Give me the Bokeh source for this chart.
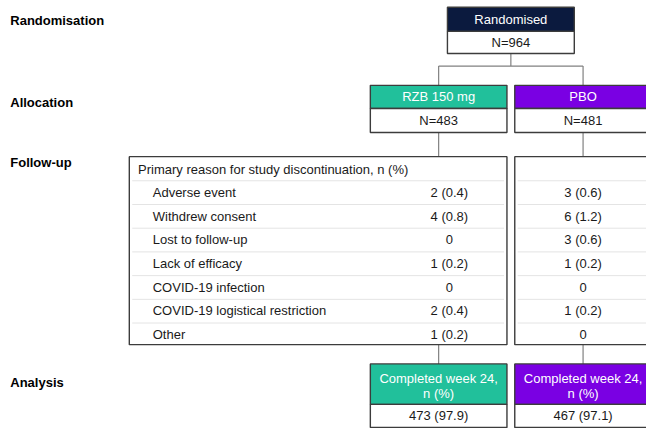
from bokeh.plotting import figure
from bokeh.models import Range1d, ColumnDataSource
from bokeh.core.properties import value
from bokeh.embed import file_html
from bokeh.resources import INLINE

# ---------------- data ----------------
stage_labels = ["Randomisation", "Allocation", "Follow-up", "Analysis"]
total_label = "Randomised"
total_n = "N=964"
arm_names = ["RZB 150 mg", "PBO"]
arm_n = ["N=483", "N=481"]
table_title = "Primary reason for study discontinuation, n (%)"
reasons = ["Adverse event", "Withdrew consent", "Lost to follow-up",
           "Lack of efficacy", "COVID-19 infection",
           "COVID-19 logistical restriction", "Other"]
rzb_values = ["2 (0.4)", "4 (0.8)", "0", "1 (0.2)", "0", "2 (0.4)", "1 (0.2)"]
pbo_values = ["3 (0.6)", "6 (1.2)", "3 (0.6)", "1 (0.2)", "0", "1 (0.2)", "0"]
completed_lines = ["Completed week 24,", "n (%)"]
completed_values = ["473 (97.9)", "467 (97.1)"]

# ---------------- layout / style ----------------
FONT = value("Liberation Sans")
NAVY = "#0b1a3e"
TEAL = "#21c09b"
PURPLE = "#7a00e3"
BORDER = "#3c3c3c"
CONN = "#808080"
SEP = "#e4e4e4"
TXT = "#1a1a1a"

stage_x = 10
stage_y = [21, 106, 168, 396]

tot_l, tot_r = 458, 588
tot_top, tot_mid, tot_bot = 7, 32, 55
arm_l = [379, 527]
arm_w = 140
arm_c = [l + arm_w / 2 for l in arm_l]
arm_top, arm_mid, arm_bot = 88, 112, 137
tab_l = [132, 527]
tab_r = [519, 667]
tab_top, tab_bot = 162, 357
title_y = 175
row_y0, row_dy = 199, 24.6
row_y = [row_y0 + i * row_dy for i in range(len(reasons))]
comp_top, comp_mid, comp_bot = 377, 419, 443
split_y = 68

p = figure(width=646, height=428, output_backend="svg", toolbar_location=None,
           x_range=Range1d(0, 662), y_range=Range1d(444, 0),
           min_border=0, background_fill_color="white", border_fill_color="white")
p.axis.visible = False
p.grid.visible = False
p.outline_line_color = None

# connectors
xs = [[523, 523], [arm_c[0], arm_c[1]]]
ys = [[tot_bot, split_y], [split_y, split_y]]
for c in arm_c:
    xs += [[c, c], [c, c], [c, c]]
    ys += [[split_y, arm_top], [arm_bot, tab_top], [tab_bot, comp_top]]
p.multi_line(xs=xs, ys=ys, line_color=CONN, line_width=1.2)

# row separators
sx, sy = [], []
for y in row_y:
    for l, r in zip(tab_l, tab_r):
        sx.append([l + 3, r - 3])
        sy.append([y - 12, y - 12])
p.multi_line(xs=sx, ys=sy, line_color=SEP, line_width=1)

# boxes
boxes = dict(left=[], right=[], top=[], bottom=[], fill=[])
def add_box(l, r, t, b, f):
    boxes["left"].append(l); boxes["right"].append(r)
    boxes["top"].append(t); boxes["bottom"].append(b); boxes["fill"].append(f)

add_box(tot_l, tot_r, tot_top, tot_mid, NAVY)
add_box(tot_l, tot_r, tot_mid, tot_bot, "white")
for l, col in zip(arm_l, [TEAL, PURPLE]):
    add_box(l, l + arm_w, arm_top, arm_mid, col)
    add_box(l, l + arm_w, arm_mid, arm_bot, "white")
    add_box(l, l + arm_w, comp_top, comp_mid, col)
    add_box(l, l + arm_w, comp_mid, comp_bot, "white")
for l, r in zip(tab_l, tab_r):
    add_box(l, r, tab_top, tab_bot, None)
src = ColumnDataSource(boxes)
p.quad(left="left", right="right", top="top", bottom="bottom", source=src,
       fill_color="fill", line_color=BORDER, line_width=1.4)

def txt(x, y, t, color=TXT, align="left", size="13px", style="normal"):
    p.text(x=x, y=y, text=t, text_color=color, text_align=align,
           text_baseline="middle", text_font=FONT, text_font_size=size,
           text_font_style=style)

# stage labels
txt([stage_x] * 4, stage_y, stage_labels, color="black", style="bold")

# randomised box
txt([523], [(tot_top + tot_mid) / 2], [total_label], color="white", align="center")
txt([523], [(tot_mid + tot_bot) / 2], [total_n], align="center")

# arms
txt(arm_c, [(arm_top + arm_mid) / 2] * 2, arm_names, color="white", align="center")
txt(arm_c, [(arm_mid + arm_bot) / 2] * 2, arm_n, align="center")

# table
txt([141], [title_y], [table_title])
txt([156] * len(reasons), row_y, reasons)
txt([460] * len(reasons), row_y, rzb_values, align="center")
txt([arm_c[1]] * len(reasons), row_y, pbo_values, align="center")

# completed
for i, line in enumerate(completed_lines):
    txt(arm_c, [392 + 16 * i] * 2, [line] * 2, color="white", align="center")
txt(arm_c, [(comp_mid + comp_bot) / 2] * 2, completed_values, align="center")

open("out.html", "w").write(file_html(p, INLINE))
